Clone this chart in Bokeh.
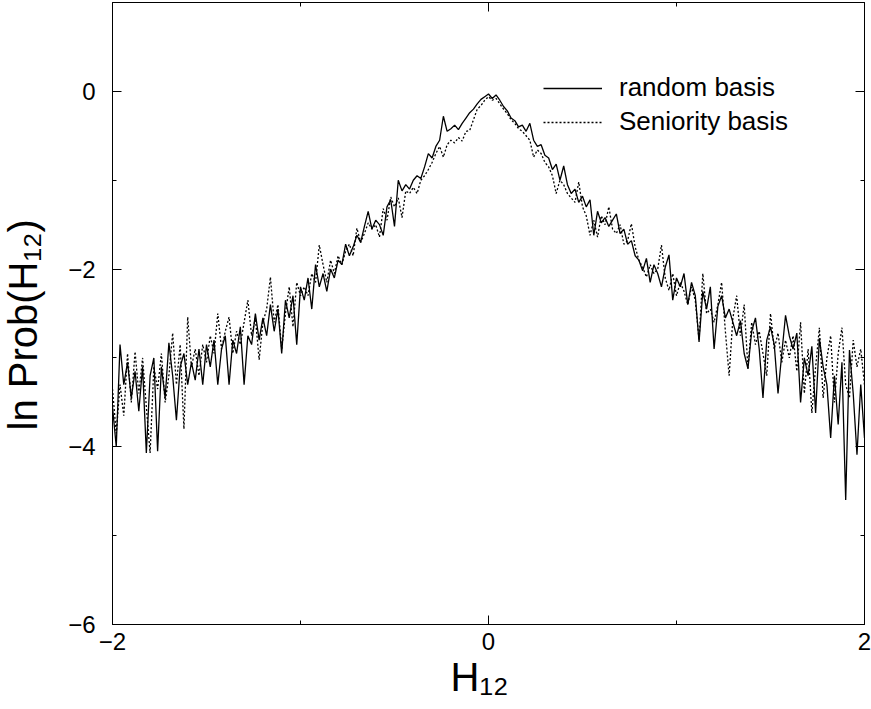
import numpy as np
from bokeh.plotting import figure
from bokeh.models import (LinearAxis, FixedTicker, Legend, LegendItem, Title,
                          Range1d, ColumnDataSource)
from bokeh.embed import file_html
from bokeh.resources import INLINE

# ---------------- data ----------------
x_start = -2.0
x_step = 0.02

random_basis = [
    -3.55, -4.00, -2.85, -3.30, -3.05, -3.45, -3.15, -3.60, -3.10, -4.07,
    -3.20, -3.00, -4.05, -3.10, -3.45, -2.83, -3.20, -3.70, -3.10, -2.95,
    -3.30, -3.05, -3.25, -2.90, -3.30, -2.85, -3.10, -2.80, -3.30, -2.90,
    -2.75, -3.30, -2.80, -2.95, -2.65, -3.30, -2.75, -2.85, -2.50, -2.80,
    -2.55, -2.75, -2.40, -2.70, -2.45, -2.95, -2.35, -2.55, -2.30, -2.85,
    -2.20, -2.35, -2.10, -2.45, -1.95, -2.20, -2.05, -2.25, -2.00, -2.10,
    -1.90, -1.95, -1.72, -1.85, -1.75, -1.62, -1.70, -1.52, -1.35, -1.55,
    -1.45, -1.50, -1.62, -1.30, -1.22, -1.52, -1.00, -1.12, -1.05, -1.10,
    -1.00, -0.95, -0.98, -0.85, -0.70, -0.75, -0.62, -0.55, -0.28, -0.45,
    -0.42, -0.38, -0.43, -0.36, -0.30, -0.24, -0.20, -0.14, -0.09, -0.06,
    -0.03, -0.08, -0.04, -0.10, -0.17, -0.22, -0.30, -0.33, -0.40, -0.38,
    -0.45, -0.36, -0.55, -0.62, -0.60, -0.72, -0.75, -0.88, -0.82, -1.00,
    -0.84, -1.05, -1.15, -1.10, -1.25, -1.18, -1.30, -1.22, -1.62, -1.35,
    -1.48, -1.42, -1.52, -1.45, -1.38, -1.60, -1.55, -1.72, -1.68, -1.85,
    -1.90, -2.02, -1.88, -2.15, -1.95, -2.05, -2.20, -1.98, -1.84, -2.35,
    -2.10, -2.20, -2.05, -2.40, -2.15, -2.30, -2.82, -2.25, -2.45, -2.20,
    -2.90, -2.42, -2.30, -2.55, -2.45, -2.60, -2.75, -2.58, -2.95, -3.12,
    -2.70, -2.55, -2.90, -3.45, -2.80, -2.65, -2.85, -3.40, -2.95, -2.52,
    -2.75, -2.90, -2.72, -3.50, -3.00, -3.20, -2.87, -3.62, -2.78, -3.10,
    -3.30, -3.90, -3.20, -3.75, -3.05, -4.60, -2.91, -3.40, -4.09, -3.30,
    -3.90,
]

seniority_basis = [
    -3.35, -3.85, -3.30, -3.65, -2.95, -3.50, -2.93, -3.40, -3.00, -3.55,
    -4.07, -3.10, -3.35, -2.95, -3.50, -3.20, -2.72, -3.30, -2.85, -3.80,
    -2.54, -3.10, -2.90, -3.20, -2.85, -3.05, -2.75, -2.95, -2.50, -2.90,
    -2.70, -2.54, -2.95, -2.70, -2.85, -2.60, -2.35, -2.75, -2.55, -3.02,
    -2.60, -2.45, -2.09, -2.60, -2.40, -2.90, -2.50, -2.20, -2.65, -2.15,
    -2.30, -2.20, -2.30, -2.05, -2.15, -1.73, -1.95, -2.15, -1.90, -2.05,
    -1.85, -1.95, -1.80, -1.72, -1.85, -1.54, -1.70, -1.60, -1.48, -1.55,
    -1.50, -1.64, -1.32, -1.45, -1.19, -1.30, -1.20, -1.42, -1.12, -1.15,
    -1.08, -1.15, -1.00, -0.95, -0.88, -0.80, -0.70, -0.62, -0.74, -0.60,
    -0.55, -0.58, -0.52, -0.56, -0.45, -0.44, -0.32, -0.20, -0.16, -0.10,
    -0.06, -0.10, -0.08, -0.14, -0.20, -0.25, -0.32, -0.36, -0.42, -0.45,
    -0.50, -0.55, -0.74, -0.66, -0.70, -0.80, -0.85, -0.95, -1.15, -1.00,
    -1.05, -1.15, -1.20, -1.25, -1.02, -1.30, -1.40, -1.62, -1.45, -1.64,
    -1.40, -1.50, -1.30, -1.55, -1.60, -1.50, -1.72, -1.68, -1.49, -1.75,
    -1.90, -1.98, -2.09, -1.95, -2.05, -2.00, -1.73, -2.10, -2.24, -2.05,
    -2.30, -2.15, -2.25, -2.40, -2.20, -2.35, -2.80, -2.05, -2.50, -2.45,
    -2.60, -2.40, -2.15, -2.70, -3.20, -2.55, -2.30, -2.75, -2.40, -3.12,
    -2.60, -2.85, -2.70, -2.95, -3.20, -2.50, -2.90, -2.72, -3.05, -2.80,
    -3.00, -2.75, -3.15, -2.60, -3.40, -2.90, -3.62, -3.10, -2.66, -3.45,
    -3.00, -2.75, -3.50, -2.95, -2.66, -3.30, -3.45, -2.80, -3.10, -2.90,
    -3.30,
]

series_labels = ["random basis", "Seniority basis"]
x_title = "H\u2081\u2082"
y_title = "ln Prob(H\u2081\u2082)"
x_ticks = [-2, 0, 2]
x_minor = [-1, 1]
y_ticks = [-6, -4, -2, 0]
y_minor = [-5, -3, -1]

h12 = np.round(x_start + x_step * np.arange(len(random_basis)), 2)

FONT = "Liberation Sans"

src = ColumnDataSource(dict(x=h12, r=random_basis, s=seniority_basis))

p = figure(width=871, height=709, x_range=Range1d(-2, 2), y_range=Range1d(-6, 1),
           output_backend="svg", toolbar_location=None,
           min_border_left=112, min_border_right=7, min_border_top=2,
           min_border_bottom=85)
p.xgrid.visible = False
p.ygrid.visible = False
p.outline_line_color = "black"
p.outline_line_width = 1
p.background_fill_color = "white"
p.border_fill_color = "white"


def style(ax, ticks, minor, show_labels):
    ax.ticker = FixedTicker(ticks=ticks, minor_ticks=minor)
    ax.major_tick_in = 9
    ax.major_tick_out = 0
    ax.minor_tick_in = 4
    ax.minor_tick_out = 0
    ax.axis_line_color = "black"
    ax.major_tick_line_color = "black"
    ax.minor_tick_line_color = "black"
    ax.major_tick_line_width = 1
    ax.minor_tick_line_width = 1
    if show_labels:
        ax.major_label_text_font = FONT
        ax.major_label_text_font_size = "24px"
        ax.major_label_text_color = "black"
        ax.major_label_overrides = {t: (str(t).replace("-", "\u2212")) for t in ticks}
    else:
        ax.major_label_overrides = {t: "" for t in ticks}
        ax.major_label_text_font_size = "1px"
        ax.major_label_standoff = 0


style(p.xaxis[0], x_ticks, x_minor, True)
p.xaxis[0].major_label_standoff = 8
style(p.yaxis[0], y_ticks, y_minor, True)
p.yaxis[0].major_label_standoff = 17
# spacer between the tick labels and the rotated title
p.yaxis[0].axis_label = " "
p.yaxis[0].axis_label_text_font_size = "11px"
p.yaxis[0].axis_label_standoff = 4

top = LinearAxis()
style(top, x_ticks, x_minor, False)
p.add_layout(top, "above")
right = LinearAxis()
style(right, y_ticks, y_minor, False)
p.add_layout(right, "right")

r1 = p.line("x", "r", source=src, line_color="black", line_width=1.3)
r2 = p.line("x", "s", source=src, line_color="black", line_width=1.3,
            line_dash="2 2")

legend = Legend(items=[LegendItem(label=series_labels[0], renderers=[r1]),
                       LegendItem(label=series_labels[1], renderers=[r2])],
                location=(431, 487), padding=0, margin=0, spacing=3,
                glyph_width=59, glyph_height=30, label_height=30,
                label_standoff=17, label_text_font=FONT,
                label_text_font_size="26px", label_text_color="black",
                border_line_alpha=0, background_fill_alpha=0)
p.add_layout(legend)

xt = Title(text=x_title, align="left", offset=338, text_font=FONT,
           text_font_size="40px", text_font_style="normal",
           text_color="black", standoff=0)
p.add_layout(xt, "below")

yt = Title(text=y_title, align="left", offset=194, text_font=FONT,
           text_font_size="40px", text_font_style="normal",
           text_color="black", standoff=0, vertical_align="top")
p.add_layout(yt, "left")

open("out.html", "w").write(file_html(p, INLINE))
